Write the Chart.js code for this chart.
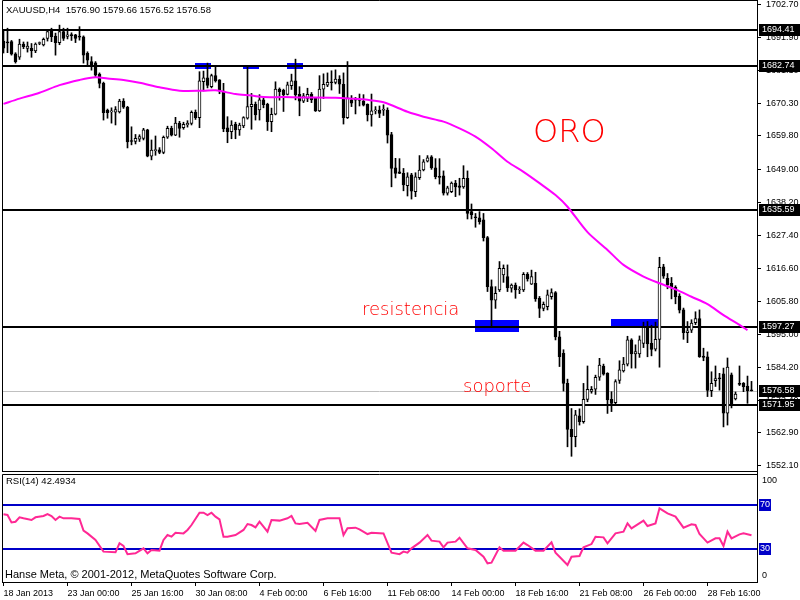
<!DOCTYPE html>
<html>
<head>
<meta charset="utf-8">
<script src="https://cdn.jsdelivr.net/npm/chart.js@4.4.1/dist/chart.umd.min.js"></script>
<style>
  html, body { margin: 0; padding: 0; background: #fff; width: 800px; height: 600px; overflow: hidden; }
  canvas { position: absolute; left: 0; }
  #main { top: 0; }
  #rsi { top: 472px; }
</style>
</head>
<body>
<canvas id="main" width="800" height="472"></canvas>
<canvas id="rsi" width="800" height="128"></canvas>
<script>
// XAUUSD H4 candles
const opens = [
  1690.8, 1690.4, 1690.6, 1686.6, 1685.5, 1689.8, 1688.4, 1688.4, 1687.6, 1690.0,
  1689.5, 1691.7, 1694.4, 1692.4, 1690.3, 1693.9, 1692.3, 1692.8, 1692.8, 1692.3,
  1692.2, 1686.8, 1684.1, 1683.7, 1680.0, 1677.0, 1668.3, 1667.7, 1667.6, 1667.7,
  1671.2, 1669.2, 1658.3, 1658.0, 1658.8, 1659.0, 1661.8, 1653.2, 1655.0, 1655.3,
  1654.4, 1659.4, 1662.3, 1660.1, 1664.0, 1662.5, 1663.4, 1663.9, 1667.5, 1665.8,
  1677.5, 1678.8, 1675.9, 1679.5, 1678.1, 1674.5, 1662.5, 1661.2, 1663.7, 1661.8,
  1663.1, 1665.6, 1669.4, 1670.1, 1668.3, 1671.6, 1670.1, 1664.5, 1666.9, 1675.1,
  1674.7, 1673.4, 1676.2, 1677.8, 1673.4, 1671.2, 1672.1, 1673.4, 1672.1, 1668.0,
  1675.1, 1676.4, 1677.3, 1677.3, 1678.4, 1676.7, 1665.8, 1671.6, 1671.7, 1671.6,
  1671.2, 1670.1, 1666.7, 1668.0, 1668.3, 1668.2, 1668.3, 1660.3, 1649.4, 1648.1,
  1647.6, 1643.6, 1647.1, 1641.6, 1646.2, 1648.7, 1651.6, 1653.0, 1649.4, 1646.5,
  1646.8, 1641.1, 1641.6, 1644.4, 1643.5, 1643.2, 1646.0, 1635.1, 1633.2, 1633.1,
  1632.4, 1626.6, 1610.6, 1606.2, 1609.5, 1614.4, 1613.9, 1610.1, 1611.1, 1609.5,
  1609.5, 1614.6, 1611.4, 1611.7, 1606.8, 1603.5, 1604.1, 1607.3, 1608.7, 1594.2,
  1588.8, 1579.0, 1564.0, 1561.6, 1568.4, 1566.5, 1573.8, 1576.4, 1577.1, 1581.0,
  1584.7, 1582.3, 1573.8, 1572.7, 1580.0, 1583.1, 1585.3, 1593.2, 1588.6, 1588.6,
  1592.1, 1597.3, 1592.1, 1590.2, 1593.4, 1617.1, 1613.3, 1611.7, 1610.4, 1607.5,
  1603.0, 1595.6, 1596.4, 1598.8, 1600.2, 1587.9, 1587.7, 1576.6, 1579.9, 1580.7,
  1582.1, 1569.3, 1581.8, 1573.9, 1578.9, 1579.0, 1578.1, 1576.90
]
const highs = [
  1694.1, 1695.0, 1691.0, 1687.0, 1691.4, 1690.5, 1690.5, 1690.0, 1690.2, 1690.5,
  1691.8, 1694.4, 1695.0, 1693.4, 1696.0, 1695.0, 1695.0, 1693.5, 1693.0, 1695.5,
  1692.5, 1687.3, 1685.7, 1684.1, 1680.4, 1677.4, 1668.6, 1669.0, 1669.4, 1671.8,
  1672.0, 1669.5, 1662.8, 1660.3, 1660.2, 1662.3, 1662.0, 1658.5, 1659.8, 1656.0,
  1659.8, 1663.0, 1663.0, 1665.9, 1664.6, 1664.3, 1664.8, 1668.0, 1668.3, 1680.8,
  1681.0, 1683.6, 1680.0, 1682.5, 1678.2, 1677.0, 1666.1, 1664.8, 1664.3, 1664.0,
  1666.1, 1682.8, 1673.7, 1670.9, 1673.3, 1672.2, 1670.5, 1668.9, 1677.5, 1675.5,
  1675.1, 1677.4, 1680.0, 1684.9, 1675.9, 1673.7, 1675.4, 1674.0, 1672.4, 1679.5,
  1680.1, 1680.4, 1681.1, 1681.4, 1679.5, 1680.4, 1684.1, 1673.0, 1672.4, 1673.5,
  1673.3, 1670.3, 1673.5, 1669.4, 1669.6, 1670.0, 1669.0, 1661.0, 1652.5, 1652.4,
  1649.2, 1647.8, 1647.6, 1647.8, 1653.4, 1652.1, 1653.4, 1653.4, 1652.4, 1652.4,
  1648.4, 1643.4, 1644.8, 1645.3, 1646.0, 1650.1, 1648.4, 1637.6, 1634.5, 1635.1,
  1634.5, 1627.0, 1612.8, 1610.6, 1618.8, 1617.7, 1617.7, 1611.5, 1611.8, 1610.6,
  1615.2, 1615.2, 1616.0, 1615.3, 1607.4, 1605.6, 1609.5, 1609.9, 1609.0, 1596.0,
  1590.0, 1580.4, 1570.8, 1570.2, 1570.7, 1579.0, 1584.7, 1578.0, 1581.7, 1587.2,
  1585.3, 1582.5, 1576.3, 1580.2, 1586.4, 1587.5, 1594.4, 1593.6, 1591.6, 1594.5,
  1599.0, 1599.2, 1598.0, 1599.0, 1620.2, 1617.9, 1614.9, 1613.6, 1610.9, 1608.3,
  1603.6, 1599.2, 1599.8, 1602.4, 1603.0, 1590.5, 1589.3, 1582.8, 1584.7, 1582.3,
  1584.0, 1587.3, 1582.4, 1576.2, 1584.7, 1579.3, 1581.4, 1579.66
]
const lows = [
  1686.9, 1687.0, 1686.2, 1683.6, 1684.8, 1688.3, 1687.2, 1685.5, 1687.0, 1689.6,
  1689.2, 1690.8, 1690.6, 1686.2, 1689.6, 1691.0, 1691.5, 1691.0, 1690.3, 1691.1,
  1683.6, 1683.0, 1681.3, 1679.0, 1675.5, 1665.0, 1665.6, 1664.0, 1663.4, 1667.3,
  1668.8, 1655.9, 1656.9, 1657.2, 1658.0, 1658.5, 1653.0, 1652.0, 1653.5, 1654.0,
  1654.0, 1659.0, 1659.8, 1659.9, 1659.4, 1662.0, 1662.7, 1663.4, 1665.2, 1662.5,
  1674.5, 1675.5, 1675.5, 1677.4, 1673.6, 1661.2, 1657.6, 1658.9, 1658.9, 1660.0,
  1662.5, 1665.3, 1662.0, 1665.0, 1665.0, 1669.0, 1661.6, 1661.2, 1666.7, 1671.5,
  1667.8, 1673.2, 1675.0, 1671.6, 1666.4, 1670.7, 1671.0, 1670.7, 1667.8, 1667.8,
  1672.0, 1675.9, 1674.8, 1676.8, 1673.7, 1663.7, 1665.5, 1669.4, 1667.0, 1669.6,
  1669.6, 1664.7, 1663.0, 1667.0, 1665.8, 1666.5, 1657.5, 1643.2, 1646.1, 1647.5,
  1641.9, 1640.2, 1639.2, 1640.0, 1645.6, 1648.4, 1651.3, 1648.9, 1645.8, 1644.1,
  1640.5, 1640.5, 1641.3, 1640.0, 1640.5, 1642.7, 1632.7, 1632.7, 1630.0, 1631.0,
  1625.5, 1609.0, 1597.5, 1603.5, 1609.0, 1612.0, 1609.0, 1608.8, 1606.8, 1608.3,
  1609.0, 1612.4, 1611.3, 1605.8, 1600.5, 1602.7, 1603.0, 1606.5, 1593.2, 1584.5,
  1576.5, 1558.3, 1555.2, 1558.3, 1565.4, 1566.0, 1573.0, 1575.8, 1575.4, 1580.0,
  1581.7, 1569.2, 1569.8, 1572.0, 1579.0, 1582.7, 1584.7, 1584.0, 1584.0, 1587.5,
  1590.7, 1587.7, 1588.0, 1589.6, 1584.3, 1613.3, 1609.9, 1606.6, 1605.0, 1602.0,
  1593.4, 1592.3, 1595.6, 1598.2, 1587.5, 1586.4, 1574.7, 1574.7, 1578.0, 1576.8,
  1564.8, 1565.4, 1571.0, 1573.6, 1578.3, 1576.3, 1572.5, 1576.52
]
const closes = [
  1688.5, 1690.2, 1686.5, 1684.1, 1689.8, 1689.0, 1689.2, 1687.7, 1689.8, 1690.1,
  1691.4, 1693.9, 1692.2, 1690.3, 1693.9, 1691.7, 1692.8, 1692.6, 1691.7, 1692.1,
  1686.2, 1684.6, 1683.0, 1679.7, 1677.0, 1667.4, 1667.4, 1667.9, 1668.4, 1671.2,
  1669.2, 1657.9, 1658.0, 1659.0, 1659.6, 1661.8, 1653.2, 1655.2, 1655.3, 1654.4,
  1659.4, 1662.3, 1660.1, 1664.0, 1662.3, 1663.6, 1664.0, 1667.5, 1665.8, 1677.8,
  1678.8, 1676.3, 1679.5, 1677.8, 1674.5, 1662.1, 1661.2, 1663.4, 1661.8, 1663.4,
  1665.8, 1669.4, 1670.1, 1666.7, 1671.6, 1670.0, 1664.5, 1666.9, 1675.1, 1674.3,
  1673.2, 1676.5, 1677.8, 1673.2, 1671.2, 1672.9, 1673.4, 1671.6, 1668.0, 1675.1,
  1676.7, 1677.3, 1677.2, 1678.4, 1676.7, 1665.8, 1672.3, 1670.5, 1671.5, 1671.4,
  1669.9, 1666.7, 1668.0, 1668.2, 1667.2, 1668.4, 1660.1, 1649.2, 1647.6, 1647.6,
  1643.8, 1646.5, 1641.8, 1646.5, 1648.7, 1651.4, 1652.7, 1649.4, 1646.5, 1646.3,
  1641.1, 1642.9, 1644.4, 1643.2, 1643.0, 1646.0, 1634.5, 1634.0, 1633.1, 1631.8,
  1626.6, 1610.6, 1606.2, 1608.4, 1616.6, 1616.6, 1610.2, 1611.1, 1609.5, 1609.7,
  1614.6, 1613.1, 1613.9, 1606.6, 1603.5, 1604.8, 1607.9, 1608.7, 1594.2, 1587.7,
  1579.0, 1564.0, 1561.6, 1568.7, 1566.5, 1573.8, 1577.1, 1577.1, 1581.0, 1585.0,
  1582.0, 1573.6, 1572.5, 1579.6, 1583.4, 1585.3, 1593.2, 1588.6, 1589.4, 1593.2,
  1597.3, 1591.9, 1590.1, 1593.4, 1616.9, 1614.0, 1611.2, 1610.4, 1607.3, 1602.9,
  1595.6, 1596.2, 1598.7, 1600.2, 1587.7, 1587.5, 1576.7, 1579.0, 1580.6, 1580.5,
  1569.3, 1584.3, 1572.0, 1575.5, 1578.7, 1577.9, 1576.6, 1576.58
]

// magenta moving average, sampled along the drawn line
const maIndex = [0, 4, 9, 14, 19, 23, 26, 30, 34, 39, 44, 50, 53, 58, 62, 65, 70, 74, 83, 87,
  91, 95, 101, 105, 110, 114, 118, 122, 126, 130, 134, 138, 141, 146, 151, 155, 160, 164, 168, 172,
  176, 180, 184, 186]
const maValues = [1670.3, 1672.0, 1673.9, 1676.4, 1678.1, 1679.0, 1678.6, 1678.1, 1677.2, 1675.7,
  1674.6, 1674.6, 1674.7, 1673.5, 1673.0, 1672.5, 1672.5, 1672.4, 1672.3, 1672.0,
  1671.6, 1670.8, 1667.7, 1666.1, 1664.5, 1662.3, 1659.6, 1655.8, 1651.4, 1648.1,
  1644.4, 1640.5, 1636.7, 1628.4, 1622.6, 1617.7, 1613.9, 1611.7, 1609.7, 1607.3,
  1604.9, 1601.3, 1598.1, 1596.4]

// RSI(14)
const rsiIndex = [0, 1, 2, 3, 4, 5, 7, 8, 10, 11, 12, 13, 14, 15, 17, 19, 20, 21, 23, 25,
  28, 29, 30, 31, 33, 35, 36, 37, 39, 40, 41, 42, 43, 45, 46, 47, 49, 50, 51, 52,
  53, 54, 55, 56, 58, 60, 61, 62, 63, 64, 66, 67, 69, 71, 72, 73, 74, 76, 78, 79,
  81, 84, 85, 86, 88, 89, 91, 92, 95, 97, 99, 100, 101, 102, 104, 106, 107, 109, 110, 111,
  113, 114, 116, 118, 120, 121, 122, 124, 125, 128, 130, 131, 133, 135, 137, 138, 139, 141, 142, 144,
  145, 147, 148, 150, 151, 153, 155, 156, 157, 160, 161, 163, 164, 166, 168, 170, 172, 173, 174, 176,
  178, 179, 180, 181, 182, 184, 185, 187]
const rsiValues = [61.5, 60.9, 54.2, 54.8, 58.8, 57.9, 56.4, 58.8, 60.0, 61.8, 60.0, 56.4, 59.4, 57.9, 57.9, 57.3, 46.7, 44.2, 38.2, 27.6,
  27.0, 35.2, 32.7, 25.2, 26.1, 30.6, 26.1, 29.1, 28.5, 38.2, 42.7, 41.2, 44.8, 44.2, 47.3, 51.8, 63.0, 63.0, 60.9, 63.0,
  59.4, 57.0, 41.2, 41.2, 42.7, 47.3, 52.7, 51.8, 49.7, 54.8, 45.8, 56.4, 55.8, 57.9, 60.0, 53.3, 52.7, 53.9, 46.4, 56.4,
  57.9, 57.9, 42.7, 48.8, 49.4, 47.9, 43.6, 44.8, 44.2, 26.7, 25.3, 27.6, 26.7, 30.6, 35.8, 42.7, 37.6, 36.7, 31.5, 35.8,
  36.7, 40.3, 30.6, 29.1, 23.0, 17.0, 17.6, 31.5, 28.5, 28.5, 35.8, 33.6, 28.5, 28.5, 36.1, 26.7, 23.0, 15.5, 23.0, 23.6,
  31.5, 34.5, 41.2, 40.6, 35.2, 44.2, 45.8, 53.3, 48.8, 55.8, 50.9, 53.3, 67.0, 62.4, 59.4, 49.4, 52.4, 51.8, 43.6, 35.8,
  39.7, 39.7, 32.7, 45.8, 39.7, 43.3, 44.2, 42.49]

const priceTicks = [1702.70, 1691.90, 1681.10, 1670.30, 1659.80, 1649.00, 1638.20, 1627.40,
  1616.60, 1605.80, 1595.00, 1584.20, 1573.40, 1562.90, 1552.10]
const dateTicks = ['18 Jan 2013', '23 Jan 00:00', '25 Jan 16:00', '30 Jan 08:00', '4 Feb 00:00', '6 Feb 16:00',
  '11 Feb 08:00', '14 Feb 00:00', '18 Feb 16:00', '21 Feb 08:00', '26 Feb 00:00', '28 Feb 16:00']
const levels = [1694.41, 1682.74, 1635.59, 1597.27, 1571.95]
const lastPrice = 1576.58
const rsiLevels = [70, 30]

// blue rectangles drawn on the chart (bar index / price)
const zoneStart = [47.9, 59.9, 70.9, 117.9, 151.9]
const zoneEnd = [51.9, 63.9, 74.9, 128.9, 163.6]
const zoneTop = [1683.7, 1683.1, 1683.7, 1599.7, 1600.1]
const zoneBottom = [1681.7, 1681.9, 1681.9, 1595.9, 1597.4]

const FONT = "'Liberation Sans', sans-serif"
const FS = 9
const BARS_PER_LABEL = 16
const X_MIN = -0.375, X_MAX = 188.375

const hline = (ctx, a, yy, color, w) => {
  ctx.strokeStyle = color
  ctx.lineWidth = w
  ctx.beginPath()
  ctx.moveTo(a.left, yy)
  ctx.lineTo(a.right, yy)
  ctx.stroke()
}

const noPad = s => { s.paddingTop = 0; s.paddingBottom = 0; s.width = 43 }

const mainOverlay = {
  id: 'mainOverlay',
  beforeDatasetsDraw(chart) {
    const { ctx, chartArea: a, scales: { x, y } } = chart
    ctx.save()
    hline(ctx, a, Math.round(y.getPixelForValue(lastPrice)) + 0.5, '#c0c0c0', 1)
    ctx.fillStyle = '#0000ff'
    zoneStart.forEach((s, k) => {
      const x0 = x.getPixelForValue(s), x1 = x.getPixelForValue(zoneEnd[k])
      const y0 = y.getPixelForValue(zoneTop[k]), y1 = y.getPixelForValue(zoneBottom[k])
      ctx.fillRect(Math.round(x0), Math.round(y0), Math.round(x1 - x0), Math.round(y1 - y0))
    })
    levels.forEach(v => hline(ctx, a, Math.round(y.getPixelForValue(v)), '#000', 2))

    ctx.fillStyle = '#ff0000'
    ctx.textBaseline = 'alphabetic'
    ctx.font = "200 32px 'DejaVu Sans'"
    ctx.fillText('ORO', 533, 142)
    ctx.font = "200 18px 'DejaVu Sans'"
    ctx.fillText('resistencia', 362, 315)
    ctx.fillText('soporte', 463, 392)

    ctx.fillStyle = '#000'
    ctx.font = `${FS + 0.5}px ${FONT}`
    ctx.textBaseline = 'middle'
    ctx.fillText('XAUUSD,H4  1576.90 1579.66 1576.52 1576.58', 6, 10)
    ctx.restore()
  },
  afterDraw(chart) {
    const { ctx, chartArea: a, scales: { y } } = chart
    ctx.save()
    ctx.strokeStyle = '#000'
    ctx.lineWidth = 1
    ctx.beginPath()
    ctx.moveTo(a.left + 0.5, a.bottom)
    ctx.lineTo(a.left + 0.5, 0.5)
    ctx.lineTo(a.right, 0.5)
    ctx.moveTo(a.left, a.bottom - 0.5)
    ctx.lineTo(a.right, a.bottom - 0.5)
    ctx.stroke()
    ctx.font = `${FS}px ${FONT}`
    ctx.textBaseline = 'middle'
    ;[...levels, lastPrice].forEach(v => {
      const yy = Math.round(y.getPixelForValue(v))
      ctx.fillStyle = '#000'
      ctx.fillRect(a.right + 2, yy - 6, 800 - a.right - 2, 12)
      ctx.fillStyle = '#fff'
      ctx.fillText(v.toFixed(2), a.right + 5, yy)
    })
    ctx.restore()
  }
}

const bars = opens.map((_, i) => i)

new Chart(document.getElementById('main'), {
  type: 'bar',
  data: {
    datasets: [
      {
        type: 'line',
        data: maIndex.map((v, k) => ({ x: v, y: maValues[k] })),
        borderColor: '#ff00ff',
        borderWidth: 2,
        pointRadius: 0,
        tension: 0.3,
        order: 0,
      },
      {
        data: bars.map(i => ({ x: i, y: [opens[i], closes[i]] })),
        backgroundColor: c => closes[c.dataIndex] >= opens[c.dataIndex] ? '#fff' : '#000',
        borderColor: '#000',
        borderWidth: 1,
        borderSkipped: false,
        barThickness: 3,
        minBarLength: 1,
        grouped: false,
        order: 1,
      },
      {
        data: bars.map(i => ({ x: i, y: [lows[i], highs[i]] })),
        backgroundColor: '#000',
        borderWidth: 0,
        barThickness: 1,
        grouped: false,
        order: 2,
      },
    ],
  },
  options: {
    responsive: false,
    animation: false,
    devicePixelRatio: 1,
    layout: { padding: { left: 2, top: 0, right: 0, bottom: 0 } },
    plugins: { legend: { display: false }, tooltip: { enabled: false } },
    scales: {
      x: { type: 'linear', min: X_MIN, max: X_MAX, offset: false, display: false },
      y: {
        position: 'right',
        min: 1550.07,
        max: 1704.21,
        afterBuildTicks: s => { s.ticks = priceTicks.map(v => ({ value: v })) },
        afterFit: noPad,
        ticks: { color: '#000', font: { family: FONT, size: FS }, padding: 5, callback: v => v.toFixed(2) },
        grid: { drawOnChartArea: false, tickLength: 4, color: '#000' },
        border: { color: '#000' },
      },
    },
  },
  plugins: [mainOverlay],
})

const rsiOverlay = {
  id: 'rsiOverlay',
  beforeDatasetsDraw(chart) {
    const { ctx, chartArea: a, scales: { y } } = chart
    ctx.save()
    rsiLevels.forEach(v => hline(ctx, a, Math.round(y.getPixelForValue(v)), '#0000c8', 2))
    ctx.fillStyle = '#000'
    ctx.font = `${FS + 0.5}px ${FONT}`
    ctx.textBaseline = 'middle'
    ctx.fillText('RSI(14) 42.4934', 6, 9)
    ctx.font = "11px 'Liberation Sans'"
    ctx.fillText('Hanse Meta, \u00a9 2001-2012, MetaQuotes Software Corp.', 5, 103)
    ctx.restore()
  },
  afterDraw(chart) {
    const { ctx, chartArea: a, scales: { y } } = chart
    ctx.save()
    ctx.strokeStyle = '#000'
    ctx.lineWidth = 1
    ctx.beginPath()
    ctx.moveTo(a.left + 0.5, a.bottom)
    ctx.lineTo(a.left + 0.5, 2.5)
    ctx.lineTo(a.right, 2.5)
    ctx.stroke()
    ctx.font = `${FS}px ${FONT}`
    ctx.textBaseline = 'middle'
    rsiLevels.forEach(v => {
      const yy = Math.round(y.getPixelForValue(v))
      ctx.fillStyle = '#0000c8'
      ctx.fillRect(a.right + 2, yy - 6, 12, 12)
      ctx.fillStyle = '#fff'
      ctx.fillText(String(v), a.right + 3, yy)
    })
    ctx.fillStyle = '#000'
    ctx.textBaseline = 'top'
    ctx.fillText('100', a.right + 5, y.getPixelForValue(100) + 4)
    ctx.textBaseline = 'bottom'
    ctx.fillText('0', a.right + 5, y.getPixelForValue(0) - 2)
    ctx.restore()
  }
}

new Chart(document.getElementById('rsi'), {
  type: 'line',
  data: {
    datasets: [{
      data: rsiIndex.map((v, k) => ({ x: v, y: rsiValues[k] })),
      borderColor: '#ff2894',
      borderWidth: 2,
      pointRadius: 0,
      tension: 0,
    }],
  },
  options: {
    responsive: false,
    animation: false,
    devicePixelRatio: 1,
    layout: { padding: { left: 2, top: 0, right: 0, bottom: 0 } },
    plugins: { legend: { display: false }, tooltip: { enabled: false } },
    scales: {
      x: {
        type: 'linear',
        min: X_MIN,
        max: X_MAX,
        offset: false,
        afterBuildTicks: s => { s.ticks = dateTicks.map((_, k) => ({ value: k * BARS_PER_LABEL })) },
        afterFit: s => { s.height = 18; s.paddingLeft = 0; s.paddingRight = 0 },
        ticks: {
          color: '#000', font: { family: FONT, size: FS }, padding: 2,
          align: 'start', maxRotation: 0, autoSkip: false,
          callback: (v, k) => dateTicks[k],
        },
        grid: { drawOnChartArea: false, tickLength: 4, color: '#000' },
        border: { color: '#000' },
      },
      y: {
        position: 'right',
        min: 0,
        max: 100,
        afterFit: noPad,
        ticks: { display: false },
        grid: { drawOnChartArea: false, drawTicks: false, color: '#000' },
        border: { color: '#000' },
      },
    },
  },
  plugins: [rsiOverlay],
})
</script>
</body>
</html>
